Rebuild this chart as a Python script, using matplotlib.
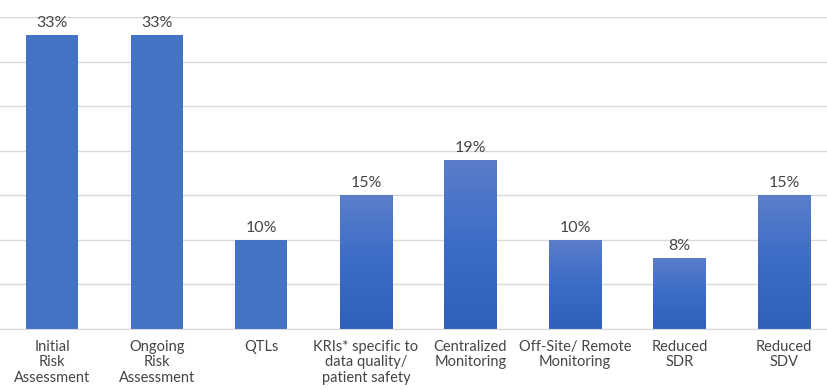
import matplotlib
matplotlib.use('Agg')
import matplotlib.pyplot as plt
import numpy as np
from matplotlib.colors import LinearSegmentedColormap

categories = ['Initial\nRisk\nAssessment', 'Ongoing\nRisk\nAssessment', 'QTLs',
              'KRIs* specific to\ndata quality/\npatient safety', 'Centralized\nMonitoring',
              'Off-Site/ Remote\nMonitoring', 'Reduced\nSDR', 'Reduced\nSDV']
values = [33, 33, 10, 15, 19, 10, 8, 15]
gradient_bars = [False, False, False, True, True, True, True, True]

text_color = '#454545'
plt.rcParams['font.family'] = ['Lato', 'DejaVu Sans']

fig = plt.figure(figsize=(8.28, 3.9), dpi=100)
ax = fig.add_axes([0, 1 - 329 / 390, 1, 312 / 390])

x = np.arange(len(categories))
bars = ax.bar(x, values, width=0.5, color='#4472C4', zorder=2)

# vertical gradient for most bars: lighter on top, darker at the bottom
grad_cmap = LinearSegmentedColormap.from_list('bluegrad', ['#3060B8', '#3C6CC7', '#5B7ECA'])
grad = np.linspace(0, 1, 256).reshape(-1, 1)
for bar, use_grad in zip(bars, gradient_bars):
    if not use_grad:
        continue
    x0, y0 = bar.get_x(), bar.get_y()
    w, h = bar.get_width(), bar.get_height()
    bar.set_facecolor('none')
    im = ax.imshow(grad, cmap=grad_cmap, aspect='auto', origin='lower',
                   extent=[x0, x0 + w, y0, y0 + h], zorder=2)
    im.set_clip_path(bar)

for xi, v in zip(x, values):
    ax.text(xi, v + 0.55, f'{v}%', ha='center', va='bottom', fontsize=11.5, color=text_color)

ax.set_xlim(-0.5, 7.42)
ax.set_ylim(0, 35)
ax.set_yticks(np.arange(0, 36, 5))
ax.set_yticklabels([])
ax.tick_params(axis='y', length=0)
ax.tick_params(axis='x', length=0, pad=8)
ax.set_xticks(x)
ax.set_xticklabels(categories, fontsize=10.5, color=text_color, linespacing=1.12)
ax.grid(axis='y', color='#D9D9D9', linewidth=1, zorder=0)
for s in ['top', 'right', 'left']:
    ax.spines[s].set_visible(False)
ax.spines['bottom'].set_color('#D9D9D9')
ax.spines['bottom'].set_zorder(3)

fig.savefig('out.png', dpi=100)
